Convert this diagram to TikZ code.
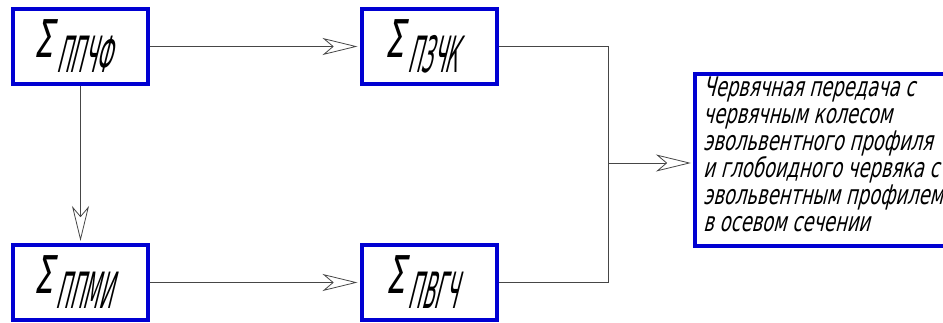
\documentclass[tikz,border=0pt]{standalone}
\usepackage{fontspec}
\usetikzlibrary{arrows.meta}
\newfontfamily\gosttext[FakeSlant=0.25,FakeStretch=0.665]{DejaVu Sans}
\newfontfamily\gostsig[FakeSlant=0.2,FakeStretch=0.6]{DejaVu Sans}
\newfontfamily\gostsub[FakeSlant=0.25,FakeStretch=0.36]{DejaVu Sans}
\definecolor{boxblue}{RGB}{0,0,210}
\definecolor{linegray}{RGB}{70,70,70}
\newcommand{\sumlabel}[1]{{\fontsize{52}{52}\gostsig Σ}\kern3pt\raisebox{-15pt}{\fontsize{50}{50}\gostsub #1}\kern16pt}
\begin{document}
\begin{tikzpicture}[x=1pt,y=-1pt,
  sbox/.style={draw=boxblue,line width=4pt,minimum width=135pt,minimum height=75pt,inner sep=0pt,fill=white},
  bigbox/.style={draw=boxblue,line width=4pt,minimum width=265pt,minimum height=172pt,inner sep=0pt,fill=white},
  conn/.style={draw=linegray,line width=0.8pt},
  arr/.style={conn,shorten >=2pt,-{Stealth[open,length=35pt,width=17pt,inset=10pt,line width=0.8pt]}},
  restxt/.style={align=left,inner sep=0pt,font=\fontsize{27}{27}\gosttext}
]
\useasboundingbox (0,0) rectangle (943,323);
\clip (0,0) rectangle (943,323);
\node[sbox] (ppchf) at (80.5,46.5) {\sumlabel{ППЧФ}};
\node[sbox] (pzchk) at (429,46.5) {\sumlabel{ПЗЧК}};
\node[sbox] (ppmi) at (80.5,282.5) {\sumlabel{ППМИ}};
\node[sbox] (pvgch) at (429,282.5) {\sumlabel{ПВГЧ}};
\node[bigbox] (res) at (827.5,160) {};
\node[restxt,anchor=north west] (restext) at (703,77) {Червячная передача с\\червячным колесом\\эвольвентного профиля\\и глобоидного червяка с\\эвольвентным профилем\\в осевом сечении};
\coordinate (j) at (608,163);
\draw[arr] (ppchf) -- (pzchk);
\draw[arr] (ppchf) -- (ppmi);
\draw[arr] (ppmi) -- (pvgch);
\draw[conn] (pzchk.east) -| (j);
\draw[conn] (pvgch.east) -| (j);
\draw[arr] (j) -- (j -| res.west);
\end{tikzpicture}
\end{document}
